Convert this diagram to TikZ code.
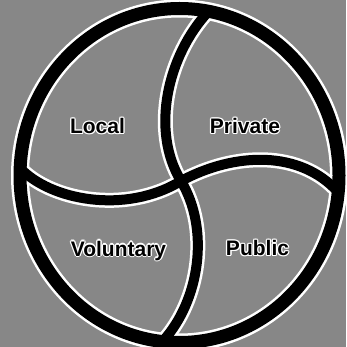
\documentclass[tikz,border=0pt]{standalone}
\usepackage{fontspec}
\setmainfont{Liberation Sans}
\tikzset{
  sector label/.style={font=\bfseries\fontsize{21}{21}\selectfont, anchor=base, inner sep=0pt},
}
\begin{document}
\begin{tikzpicture}
% Four-sector pinwheel
\providecommand{\wheelBgColor}{black!47}
\providecommand{\wheelLineColor}{black}
\providecommand{\wheelHaloColor}{white}
\def\ringwd{13pt}
\def\ringhalo{18pt}
\def\curvewd{10pt}
\def\curvehalo{15pt}
\begin{scope}[x=1pt, y=-1pt, line cap=round, line join=round]
  % Background
  \fill[fill=\wheelBgColor] (0,0) rectangle (346,347);
  \useasboundingbox (0,0) rectangle (346,347);
  % Points where the curves meet
  \coordinate (hub) at (181,181);
  \coordinate (top) at (208,12);
  \coordinate (bottom) at (163,341);
  \coordinate (left) at (20,168);
  \coordinate (right) at (338,192);
  % Halo under ring and curves
  \begin{scope}[draw=\wheelHaloColor]
    \draw[line width=\ringhalo] (179.5,175.5) ellipse [x radius=159.5, y radius=167];
    \draw[line width=\curvehalo] (top) .. controls (168,55) and (150,130) .. (hub)
      .. controls (210,229) and (200,300) .. (bottom);
    \draw[line width=\curvehalo] (left) .. controls (50,200) and (125,215) .. (hub)
      .. controls (235,152) and (300,150) .. (right);
  \end{scope}
  % Ring and curves
  \begin{scope}[draw=\wheelLineColor]
    \draw[line width=\curvewd] (top) .. controls (168,55) and (150,130) .. (hub)
      .. controls (210,229) and (200,300) .. (bottom);
    \draw[line width=\curvewd] (left) .. controls (50,200) and (125,215) .. (hub)
      .. controls (235,152) and (300,150) .. (right);
    \draw[line width=\ringwd] (179.5,175.5) ellipse [x radius=159.5, y radius=167];
  \end{scope}
  % Labels with white halo
  \foreach \sname/\sx/\sy/\stext in {local/97.5/133.5/Local, private/245/133.5/Private,
      voluntary/118.5/256/Voluntary, public/257.5/255.5/Public} {
    \foreach \hx/\hy in {1.3/0,-1.3/0,0/1.3,0/-1.3,0.9/0.9,-0.9/0.9,0.9/-0.9,-0.9/-0.9}
      \node[sector label, text=\wheelHaloColor, xshift=\hx pt, yshift=\hy pt] at (\sx,\sy) {\stext};
    \node[sector label] (\sname) at (\sx,\sy) {\stext};
  }
\end{scope}
\end{tikzpicture}
\end{document}
